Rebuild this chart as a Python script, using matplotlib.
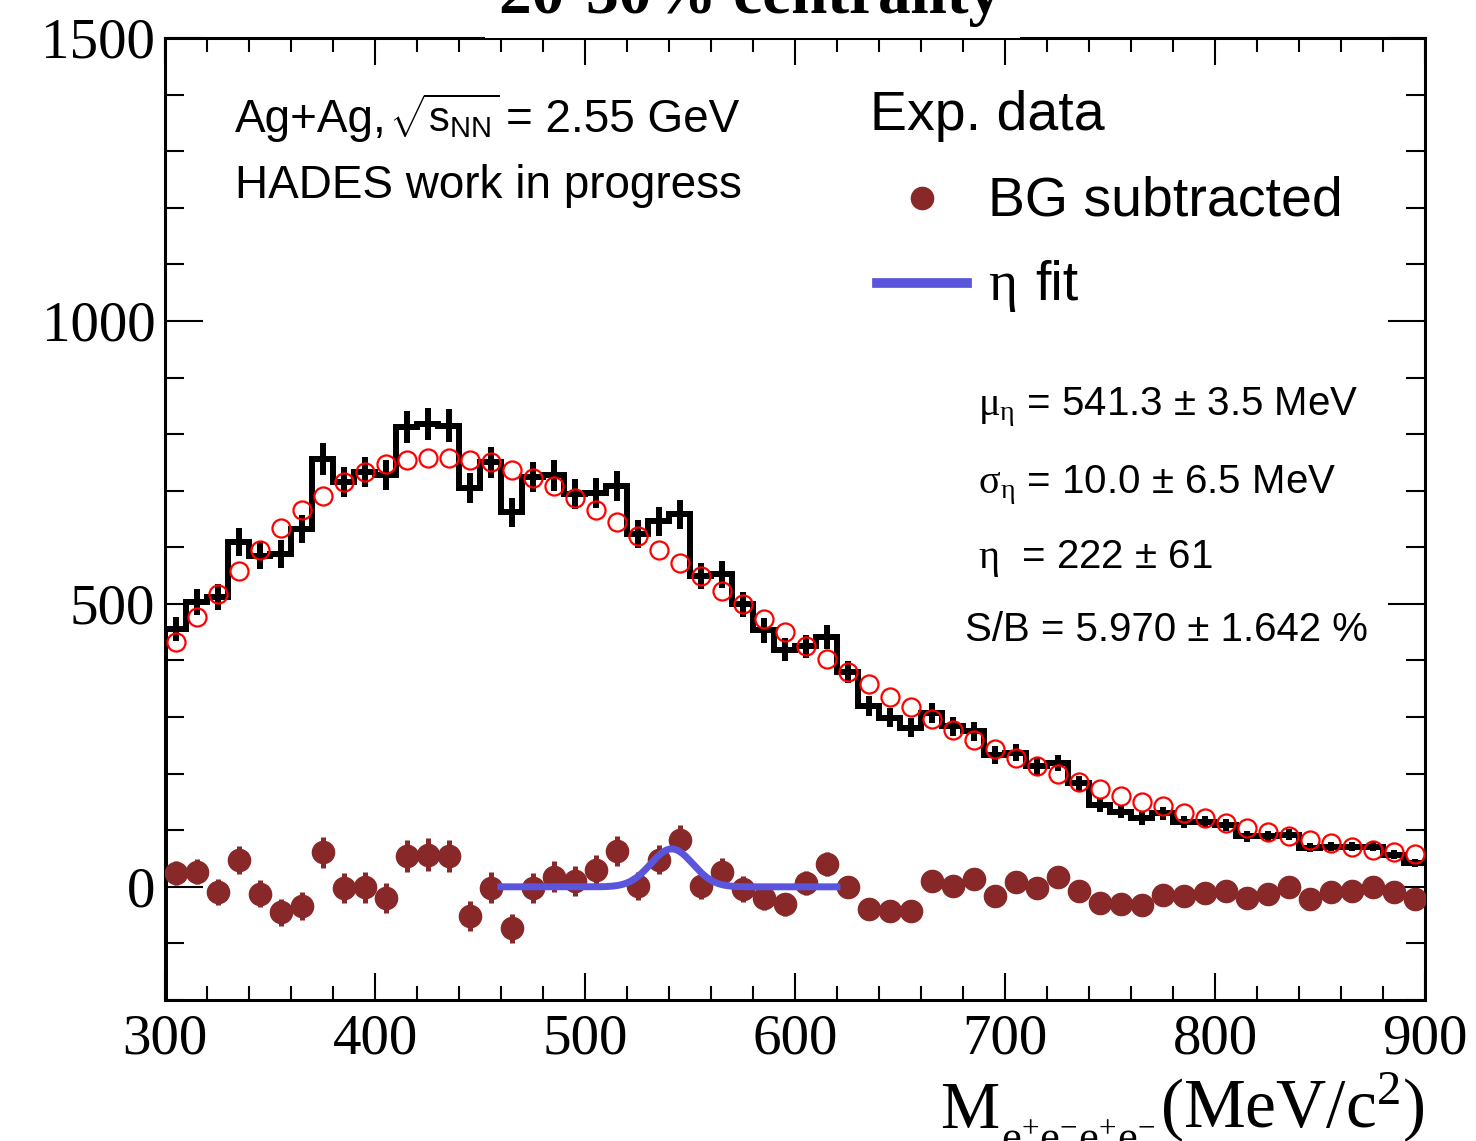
import numpy as np
import matplotlib
matplotlib.use("Agg")
import matplotlib.pyplot as plt
from matplotlib.lines import Line2D
from matplotlib.patches import Rectangle

# Fuentes tipo ROOT: Times para ejes, Helvetica para textos
plt.rcParams['mathtext.fontset'] = 'custom'
plt.rcParams['mathtext.rm'] = 'Liberation Serif'
plt.rcParams['mathtext.sf'] = 'Liberation Sans'
plt.rcParams['mathtext.it'] = 'Liberation Serif:italic'
plt.rcParams['mathtext.bf'] = 'Liberation Serif:bold'

# Datos: bines de 10 MeV entre 300 y 900 MeV
bordes = np.arange(300, 910, 10)
centros = bordes[:-1] + 5

# Espectro medido (histograma negro)
cuentas = [455, 503, 512, 609, 585, 588, 632, 756, 715, 733,
           728, 812, 818, 815, 704, 750, 662, 724, 727, 694,
           696, 708, 623, 646, 658, 549, 552, 499, 453, 419,
           425, 442, 379, 319, 299, 281, 307, 284, 275, 233,
           237, 213, 219, 183, 145, 133, 121, 130, 115, 115,
           110, 89, 90, 92, 69, 71, 71, 71, 57, 42]

# Fondo ajustado (circulos rojos abiertos)
fondo = [432, 476, 517, 558, 596, 634, 666, 690, 715, 733,
         747, 754, 757, 757, 754, 750, 736, 722, 708, 687,
         666, 644, 620, 596, 573, 549, 522, 499, 473, 450,
         425, 402, 379, 358, 336, 317, 297, 278, 260, 244,
         228, 213, 200, 186, 173, 161, 150, 142, 131, 122,
         113, 104, 97, 90, 83, 78, 71, 65, 62, 58]

# Señal con fondo restado (puntos rojo oscuro)
restado = [25, 27, -9, 47, -12, -45, -34, 61, -2, -1,
           -20, 55, 57, 55, -52, -2, -73, -2, 18, 10,
           30, 63, 2, 48, 83, 2, 27, -4, -19, -31,
           7, 40, 0, -39, -42, -42, 10, 2, 14, -17,
           9, -2, 18, -7, -29, -30, -33, -14, -17, -11,
           -7, -20, -12, -1, -21, -10, -7, 0, -10, -22]
n_con_error = 32  # puntos con barra de error (hasta 620 MeV)

# Ajuste gaussiano del eta
mu_eta = 541.3
sigma_eta = 10.0
pico_eta = 67
rango_fit = (460, 620)

cuentas = np.array(cuentas)
restado = np.array(restado)
err = np.sqrt(cuentas)

W, H = 1476, 1141
fig = plt.figure(figsize=(W / 100, H / 100), dpi=100)
ax = fig.add_axes([165 / W, 1 - 1000 / H, 1260 / W, 962 / H])


def fpos(x, y):
    # pixeles -> coordenadas de figura
    return x / W, 1 - y / H


# Histograma con cruces de error (solo el borde izquierdo baja hasta el marco)
ax.stairs(cuentas, bordes, baseline=None, color='black', lw=4.3, zorder=2)
ax.vlines(bordes[0], -200, cuentas[0], color='black', lw=4.3, zorder=2)
ax.errorbar(centros, cuentas, xerr=5, yerr=err, fmt='none', ecolor='black',
            elinewidth=4.3, capsize=0, zorder=2)

# Fondo
ax.plot(centros, fondo, 'o', mfc='none', mec='#ff0000', ms=13, mew=1.6, zorder=3)

# Fondo restado
rojo = '#882828'
ax.errorbar(centros[:n_con_error], restado[:n_con_error], yerr=err[:n_con_error],
            fmt='none', ecolor=rojo, elinewidth=3.6, capsize=0, zorder=4)
ax.plot(centros, restado, 'o', color=rojo, ms=16, zorder=5)

# Curva de ajuste
xf = np.linspace(rango_fit[0], rango_fit[1], 400)
yf = pico_eta * np.exp(-0.5 * ((xf - mu_eta) / sigma_eta) ** 2)
azul = '#5a55dc'
ax.plot(xf, yf, color=azul, lw=5, zorder=6)

# Ejes
ax.set_xlim(300, 900)
ax.set_ylim(-200, 1500)
ax.set_xticks(np.arange(300, 901, 100))
ax.set_xticks(np.arange(300, 901, 20), minor=True)
ax.set_yticks([0, 500, 1000, 1500])
ax.set_yticks(np.arange(-200, 1501, 100), minor=True)
ax.tick_params(which='both', direction='in', top=True, right=True, width=1.5,
               labelsize=41)
ax.tick_params(axis='x', which='major', length=19.5, pad=10)
ax.tick_params(axis='x', which='minor', length=10)
ax.tick_params(axis='y', which='major', length=27, pad=7)
ax.tick_params(axis='y', which='minor', length=13.7)
for lab in ax.get_xticklabels() + ax.get_yticklabels():
    lab.set_family('Liberation Serif')
for s in ax.spines.values():
    s.set_linewidth(2.2)

# Titulo del eje x: M, subindice y unidades por separado
serif = 'Liberation Serif'
fig.text(*fpos(940, 1128), 'M', va='baseline', fontsize=48, family=serif)
fig.text(*fpos(1001, 1152), r'e$^{+}$e$^{-}$e$^{+}$e$^{-}$', va='baseline',
         fontsize=32, family=serif)
fig.text(*fpos(1425, 1128), r'(MeV/c$^{\mathrm{2}}$)', ha='right', va='baseline',
         fontsize=50, family=serif)

# Titulo (cortado arriba) con caja blanca encima del marco
fig.add_artist(Rectangle(fpos(485, 38), 535 / W, 38 / H, transform=fig.transFigure,
                         facecolor='white', edgecolor='none', zorder=5))
fig.text(*fpos(750, 13), '20-30% centrality', ha='center', va='baseline',
         fontsize=47, fontweight='bold', family=serif, zorder=6)

# Textos
sans = 'Liberation Sans'
fig.text(*fpos(235, 132), 'Ag+Ag,', va='baseline', fontsize=33, family=sans)
fig.text(*fpos(389, 132), r'$\sqrt{\mathsf{s}_{\mathsf{NN}}}$', va='baseline',
         fontsize=30, family=sans)
fig.text(*fpos(506, 132), '= 2.55 GeV', va='baseline', fontsize=33, family=sans)
fig.text(*fpos(235, 198), 'HADES work in progress', va='baseline', fontsize=33,
         family=sans)

# Leyenda
fig.text(*fpos(870, 130), 'Exp. data', va='baseline', fontsize=40, family=sans)
fig.add_artist(Line2D([922 / W], [1 - 198 / H], marker='o', color=rojo, ms=16,
                      transform=fig.transFigure))
fig.text(*fpos(988, 215), 'BG subtracted', va='baseline', fontsize=40, family=sans)
fig.add_artist(Line2D([877 / W, 967 / W], [1 - 283 / H, 1 - 283 / H], color=azul,
                      lw=7, transform=fig.transFigure))
fig.text(*fpos(988, 300), 'η', va='baseline', fontsize=40, family=serif)
fig.text(*fpos(1035, 300), 'fit', va='baseline', fontsize=40, family=sans)

# Resultados del ajuste
fig.text(*fpos(978, 415), r'$\mathrm{\mu}_{\mathrm{\eta}}$ = 541.3 ± 3.5 MeV',
         va='baseline', fontsize=29, family=sans)
fig.text(*fpos(978, 493), r'$\mathrm{\sigma}_{\mathrm{\eta}}$ = 10.0 ± 6.5 MeV',
         va='baseline', fontsize=29, family=sans)
fig.text(*fpos(978, 568), r'$\mathrm{\eta}$  = 222 ± 61',
         va='baseline', fontsize=29, family=sans)
fig.text(*fpos(965, 641), 'S/B = 5.970 ± 1.642 %',
         va='baseline', fontsize=29, family=sans)

fig.savefig('out.png', dpi=100)
